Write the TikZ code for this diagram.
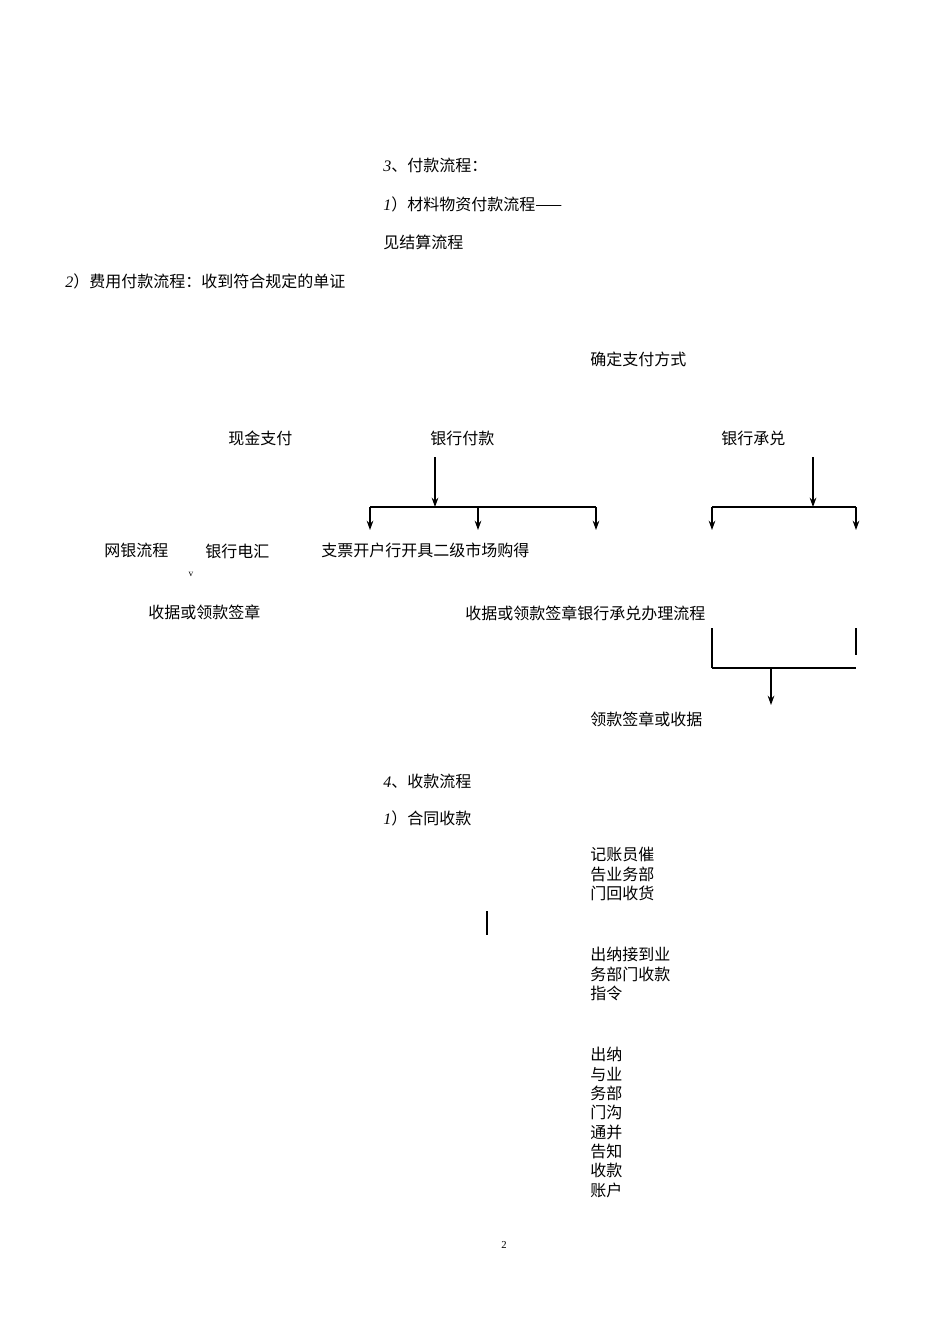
\documentclass[tikz,border=0pt]{standalone}
\usepackage{fontspec}
\usetikzlibrary{arrows.meta}
\setmainfont{Liberation Serif}
\newfontfamily\cjk{Noto Sans CJK SC}
\begin{document}
\begin{tikzpicture}[x=0.75pt,y=-0.75pt,
 t/.style={anchor=west,inner sep=0pt,font=\cjk\fontsize{12}{14.5}\selectfont},
 tl/.style={t,align=left},
 ln/.style={line width=0.8pt},
 ar/.style={ln,-{Stealth[length=7pt,width=5pt]}}]
\useasboundingbox[fill=white] (0,0) rectangle (950,1344);
\node[t] (a1) at (383,165) {{\itshape\rmfamily 3}、付款流程：};
\node[t] (a2) at (383,204) {{\itshape\rmfamily 1}）材料物资付款流程——};
\node[t] (a3) at (383,242) {见结算流程};
\node[t] (a4) at (65,281) {{\itshape\rmfamily 2}）费用付款流程：收到符合规定的单证};
\node[t] (b0) at (590,359) {确定支付方式};
\node[t] (b1) at (228,438) {现金支付};
\node[t] (b2) at (430,438) {银行付款};
\node[t] (b3) at (721,438) {银行承兑};
\node[t] (c1) at (104,550) {网银流程};
\node[t] (c2) at (205,551) {银行电汇};
\node[t] (c3) at (321,550) {支票开户行开具二级市场购得};
\node[anchor=center,inner sep=0pt,font=\rmfamily\fontsize{7}{8}\selectfont] (v) at (191,574) {v};
\node[t] (d1) at (148,612) {收据或领款签章};
\node[t] (d2) at (465,613) {收据或领款签章银行承兑办理流程};
\node[t] (e1) at (590,719) {领款签章或收据};
\node[t] (f1) at (383,781) {{\itshape\rmfamily 4}、收款流程};
\node[t] (f2) at (383,818) {{\itshape\rmfamily 1}）合同收款};
\node[tl,anchor=north west] (g1) at (590,847) {记账员催\\告业务部\\门回收货};
\node[tl,anchor=north west] (g2) at (590,947) {出纳接到业\\务部门收款\\指令};
\node[tl,anchor=north west] (g3) at (590,1047) {出纳\\与业\\务部\\门沟\\通并\\告知\\收款\\账户};
\node[anchor=center,inner sep=0pt,font=\rmfamily\fontsize{8}{9}\selectfont] (pg) at (504,1245) {2};
\coordinate (p1) at (435,457); \coordinate (p2) at (435,507);
\draw[ar] (p1) -- (p2);
\draw[ln] (370,507) -- (596,507);
\draw[ar] (370,507) -- (370,530);
\draw[ar] (478,507) -- (478,530);
\draw[ar] (596,507) -- (596,530);
\coordinate (q1) at (813,457); \coordinate (q2) at (813,507);
\draw[ar] (q1) -- (q2);
\draw[ln] (712,507) -- (856,507);
\draw[ar] (712,507) -- (712,530);
\draw[ar] (856,507) -- (856,530);
\draw[ln] (712,628) -- (712,668);
\draw[ln] (856,628) -- (856,655);
\draw[line width=1.6pt] (712,668) -- (856,668);
\coordinate (r1) at (771,668); \coordinate (r2) at (771,705);
\draw[ar] (r1) -- (r2);
\draw[line width=2pt] (487,911) -- (487,935);
\end{tikzpicture}
\end{document}
